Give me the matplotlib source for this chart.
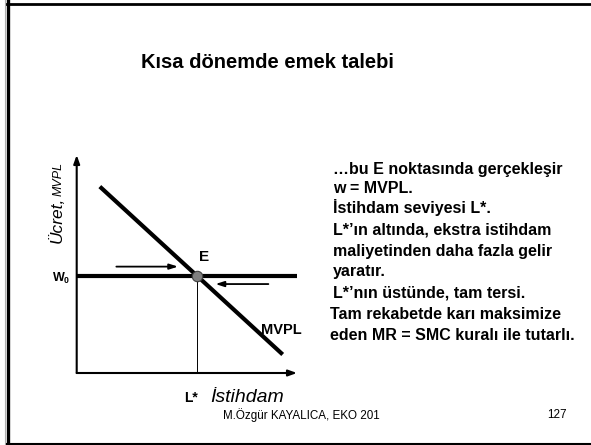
import matplotlib
matplotlib.use("Agg")
import matplotlib.pyplot as plt
from matplotlib.lines import Line2D

plt.rcParams['font.family'] = ['Liberation Sans', 'DejaVu Sans']
plt.rcParams['mathtext.fontset'] = 'custom'
plt.rcParams['mathtext.rm'] = 'Liberation Sans'
plt.rcParams['mathtext.bf'] = 'Liberation Sans:bold'

# --- data (diagram units, axes run 0..10) ---
mvpl_x = [1.05, 9.35]
mvpl_y = [8.55, 0.85]
wage_x = [0.0, 10.0]
w0 = 4.46
l_star = 5.45
arrow_left_x = [1.8, 4.6]    # start, end (pointing right)
arrow_left_y = 4.88
arrow_right_x = [8.7, 6.3]   # start, end (pointing left)
arrow_right_y = 4.08

title = "Kısa dönemde emek talebi"
notes = [
    "…bu E noktasında gerçekleşir",
    "w = MVPL.",
    "İstihdam seviyesi L*.",
    "L*’ın altında, ekstra istihdam",
    "maliyetinden daha fazla gelir",
    "yaratır.",
    "L*’nın üstünde, tam tersi.",
    "Tam rekabetde karı maksimize",
    "eden MR = SMC kuralı ile tutarlı.",
]
note_baselines = [174, 193, 213, 235, 256, 276, 298, 319, 340]  # pixels from top
footer = "M.Özgür KAYALICA, EKO 201"
page = "127"

W, H = 591, 445
fig = plt.figure(figsize=(W / 100, H / 100), dpi=100)
fig.patch.set_facecolor("white")

# slide frame
fig.add_artist(Line2D([7.5 / W, 7.5 / W], [0, 1], color="black", lw=2.4))
fig.add_artist(Line2D([5 / W, 5 / W], [0, 1], color="#b0b0b0", lw=0.8))
fig.add_artist(Line2D([7 / W, 1], [1 - 4 / H, 1 - 4 / H], color="black", lw=2.0))
fig.add_artist(Line2D([7 / W, 1], [0.8 / H, 0.8 / H], color="black", lw=1.5))

fig.text(267 / W, 1 - 62 / H, title, ha="center", va="center",
         fontsize=14.5, fontweight="bold")

# diagram axes
x0, y0, x1, y1 = 76.7, 373, 297, 155
ax = fig.add_axes([x0 / W, 1 - y0 / H, (x1 - x0) / W, (y0 - y1) / H])
ax.set_xlim(0, 10)
ax.set_ylim(0, 10)
ax.axis("off")

axis_arrow = dict(arrowstyle="-|>,head_length=0.5,head_width=0.18", color="black",
                  lw=1.5, shrinkA=0, shrinkB=0)
ax.annotate("", xy=(0, 10), xytext=(0, 0), arrowprops=axis_arrow, annotation_clip=False)
ax.annotate("", xy=(10, 0), xytext=(0, 0), arrowprops=axis_arrow, annotation_clip=False)

ax.plot(wage_x, [w0, w0], color="black", lw=3, solid_capstyle="butt", clip_on=False)
ax.plot(mvpl_x, mvpl_y, color="black", lw=3, solid_capstyle="butt", clip_on=False)
ax.plot([l_star, l_star], [0, w0], color="black", lw=0.7)
ax.plot([l_star], [w0], "o", ms=7.5, mfc="#808080", mec="#404040", mew=0.8, zorder=5)

move_arrow = dict(arrowstyle="-|>,head_length=0.5,head_width=0.16", color="black",
                  lw=1.3, shrinkA=0, shrinkB=0)
ax.annotate("", xy=(arrow_left_x[1], arrow_left_y), xytext=(arrow_left_x[0], arrow_left_y),
            arrowprops=move_arrow)
ax.annotate("", xy=(arrow_right_x[1], arrow_right_y), xytext=(arrow_right_x[0], arrow_right_y),
            arrowprops=move_arrow)

ax.text(5.8, 5.3, "E", ha="center", va="center", fontsize=11, fontweight="bold")
ax.text(8.35, 1.97, "MVPL", ha="left", va="center", fontsize=10.5, fontweight="bold")
ax.text(-0.3, w0 - 0.1, r"$\mathbf{W_0}$", ha="right", va="center", fontsize=9)
ax.text(5.2, -1.33, "L*", ha="center", va="baseline", fontsize=10, fontweight="bold")
ax.text(6.05, -1.33, "İstihdam", ha="left", va="baseline", fontsize=14, style="italic")
ax.text(-0.7, 5.95, "Ücret,", rotation=90, rotation_mode="anchor", ha="left",
        va="baseline", fontsize=12.5, style="italic")
ax.text(-0.7, 8.1, "MVPL", rotation=90, rotation_mode="anchor", ha="left",
        va="baseline", fontsize=9, style="italic")

# right-hand notes
for line, yb in zip(notes, note_baselines):
    xs = 330 if line.startswith(("Tam", "eden")) else 333
    fig.text(xs / W, 1 - yb / H, line, ha="left", va="baseline",
             fontsize=11.5, fontweight="bold")

fig.text(301 / W, 1 - 415 / H, footer, ha="center", va="center", fontsize=8.4)
fig.text(567 / W, 1 - 415 / H, page, ha="right", va="center", fontsize=8.4)

fig.savefig("out.png", dpi=100)
